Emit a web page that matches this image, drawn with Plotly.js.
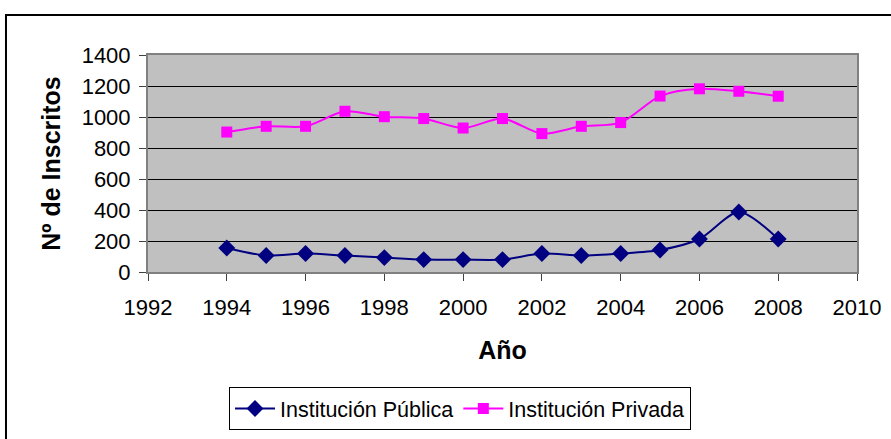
<!DOCTYPE html>
<html>
<head>
<meta charset="utf-8">
<script src="https://cdn.plot.ly/plotly-3.0.1.min.js"></script>
<style>html,body{margin:0;padding:0;background:#fff;}#chart{width:891px;height:439px;}</style>
</head>
<body>
<div id="chart"></div>
<script>
const years = [1994, 1995, 1996, 1997, 1998, 1999, 2000, 2001, 2002, 2003, 2004, 2005, 2006, 2007, 2008];
const publica = [155, 106, 119, 106, 93, 80, 80, 80, 119, 106, 119, 142, 213, 387, 213];
const privada = [903, 940, 940, 1037, 1002, 990, 929, 990, 893, 940, 964, 1135, 1182, 1166, 1134];
const seriesNames = ['Institución Pública', 'Institución Privada'];
const xTitle = 'Año';
const yTitle = 'Nº de Inscritos';

const fontFam = 'Arial, "Liberation Sans", sans-serif';

const traces = [
  {
    x: years, y: publica, name: seriesNames[0], type: 'scatter', mode: 'lines+markers',
    line: {color: '#000080', width: 2, shape: 'spline', smoothing: 0.8},
    marker: {symbol: 'diamond', size: 13, color: '#000080'}
  },
  {
    x: years, y: privada, name: seriesNames[1], type: 'scatter', mode: 'lines+markers',
    line: {color: '#ff00ff', width: 2, shape: 'spline', smoothing: 0.8},
    marker: {symbol: 'square', size: 11, color: '#ff00ff'}
  }
];

const layout = {
  width: 891, height: 439,
  margin: {l: 148, r: 34, t: 55, b: 167},
  paper_bgcolor: '#ffffff',
  plot_bgcolor: '#c0c0c0',
  font: {family: fontFam, color: '#000', size: 22},
  showlegend: true,
  legend: {
    orientation: 'h', xref: 'container', yref: 'container',
    x: 229 / 891, xanchor: 'left', y: (439 - 387) / 439, yanchor: 'top',
    bordercolor: '#000', borderwidth: 1, bgcolor: '#fff',
    font: {family: fontFam, size: 21.5, color: '#000'},
    itemwidth: 40, tracegroupgap: 0
  },
  xaxis: {
    range: [1992, 2010], dtick: 2, tick0: 1992,
    showgrid: false, zeroline: false, automargin: false,
    showline: true, linecolor: '#808080', linewidth: 2, mirror: true,
    ticks: 'outside', ticklen: 7, tickcolor: '#404040', tickwidth: 1,
    ticklabelstandoff: 8,
    tickfont: {family: fontFam, size: 22, color: '#000'},
    title: {text: xTitle, font: {family: fontFam, size: 25, color: '#000', weight: 'bold'}, standoff: 22}
  },
  yaxis: {
    range: [0, 1400], dtick: 200, tick0: 0,
    showgrid: true, gridcolor: '#000', gridwidth: 1, zeroline: false, automargin: false,
    showline: true, linecolor: '#808080', linewidth: 2, mirror: true,
    ticks: 'outside', ticklen: 7, tickcolor: '#404040', tickwidth: 1,
    ticklabelstandoff: 4,
    tickfont: {family: fontFam, size: 22, color: '#000'},
    title: {text: yTitle, font: {family: fontFam, size: 25, color: '#000', weight: 'bold'}, standoff: 14}
  },
  shapes: [{
    type: 'rect', xref: 'paper', yref: 'paper',
    x0: -0.2003, x1: 1.2, y0: -1.0, y1: 1.184,
    line: {color: '#000', width: 2}, fillcolor: 'rgba(0,0,0,0)', layer: 'below'
  }]
};

Plotly.newPlot('chart', traces, layout, {displayModeBar: false, staticPlot: true});
</script>
</body>
</html>
